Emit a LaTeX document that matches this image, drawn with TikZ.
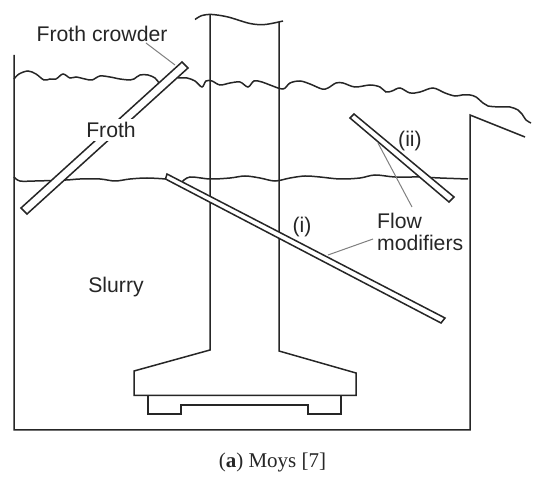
\documentclass[tikz,border=0pt]{standalone}
\usepackage{fontspec}
\setmainfont{Liberation Sans}
\newfontfamily\capfont{Liberation Serif}
\tikzset{
  wall/.style={draw=black!85,line width=1.5pt,line join=miter},
  wave/.style={draw=black!85,line width=1.5pt,smooth,tension=0.55},
  barbox/.style={draw=black!85,fill=white,line width=1.5pt,line join=miter},
  leader/.style={draw=black!50,line width=1pt},
  lab/.style={font=\fontsize{21.2}{24}\selectfont,text=black!85,inner sep=0pt},
  caplab/.style={font=\capfont\fontsize{21}{25}\selectfont,text=black!85,inner sep=0pt}
}
\begin{document}
\begin{tikzpicture}[x=1pt,y=-1pt]
\useasboundingbox (0,0) rectangle (550,481);
\fill[white] (0,0) rectangle (550,481);
% tank
\draw[wall] (14,55) -- (14,430) -- (470,430) -- (470,115) -- (525,137);
% column and base
\draw[wall] (210,15) -- (210,350) -- (134,371) -- (134,395.5) -- (356,395.5) -- (356,373) -- (279,351) -- (279,22);
\draw[wall] (148,395.5) -- (148,414) -- (181,414) -- (181,405) -- (308,405) -- (308,414) -- (341,414) -- (341,395.5);
% top squiggle
\draw[wave] plot coordinates {(195,19.5)(202,15.5)(212,14.5)(228,17)(250,23.5)(265,24.5)(283,21)};
% froth surface
\draw[wave] plot coordinates {(14,79)(19,74)(28,71)(36,74)(44,80)(50,79)(56,79)(63,74)(70,78)(76,77)(85,79)(92,80)(100,76)(110,77)(120,79)(130,80)(134,79)(140,75)(148,75)(155,78)(159,83)};
\draw[wave] plot coordinates {(178,78)(187,78)(195,81)(202,87)(206,81)(212,81)(220,85)(230,83)(240,82)(248,87)(254,81)(262,82)(270,85)(283,89)(290,83)(300,81)(310,84)(322,89)(328,88)(336,83)(343,83)(355,87)(370,85)(380,87)(386,92)(392,91)(400,88)(410,93)(420,92)(433,88)(445,93)(455,96)(462,95)(470,95)(476,97)(483,103)(488,106)(500,107)(510,107)(518,110)(522,114)(526,120)(531,123)};
% slurry surface
\draw[wave] plot coordinates {(14,177)(20,181)(35,181)(66,180)(80,179)(100,179)(115,181)(130,179)(147,178)(166,179)};
\draw[wave] plot coordinates {(182,182)(190,177)(210,179)(230,178)(245,176)(260,178)(275,181)(290,178)(305,176)(320,177)(340,179)(360,178)(375,175)(395,177)(420,177)(440,178)(468,179)};
% bars
\draw[barbox] (182,62) -- (188,68) -- (27,214) -- (21,208) -- cycle;
\draw[barbox] (167,174) -- (445,318) -- (441,323) -- (165.5,179) -- cycle;
\draw[barbox] (354,114) -- (454,197) -- (449,202) -- (350,118) -- cycle;
% labels
\node[lab,anchor=west] (crowder) at (36.5,34) {Froth crowder};
\node[lab,fill=white,inner xsep=2pt,inner ysep=3pt] (froth) at (111,130) {Froth};
\node[lab] (ii) at (410,141) {(ii)};
\node[lab] (i) at (302,227) {(i)};
\node[lab,anchor=west] (flow) at (377,221) {Flow};
\node[lab,anchor=west] (modif) at (377,243) {modifiers};
\node[lab] (slurry) at (116,287) {Slurry};
\node[caplab] (cap) at (272.5,462) {(\textbf{a}) Moys [7]};
% leaders
\coordinate (c1) at (146,43);
\coordinate (c2) at (175,65);
\coordinate (f1) at (412,207);
\coordinate (f2) at (378,143);
\coordinate (f3) at (373,239);
\coordinate (f4) at (328,255);
\draw[leader] (c1) -- (c2);
\draw[leader] (f1) -- (f2);
\draw[leader] (f3) -- (f4);
\end{tikzpicture}
\end{document}
